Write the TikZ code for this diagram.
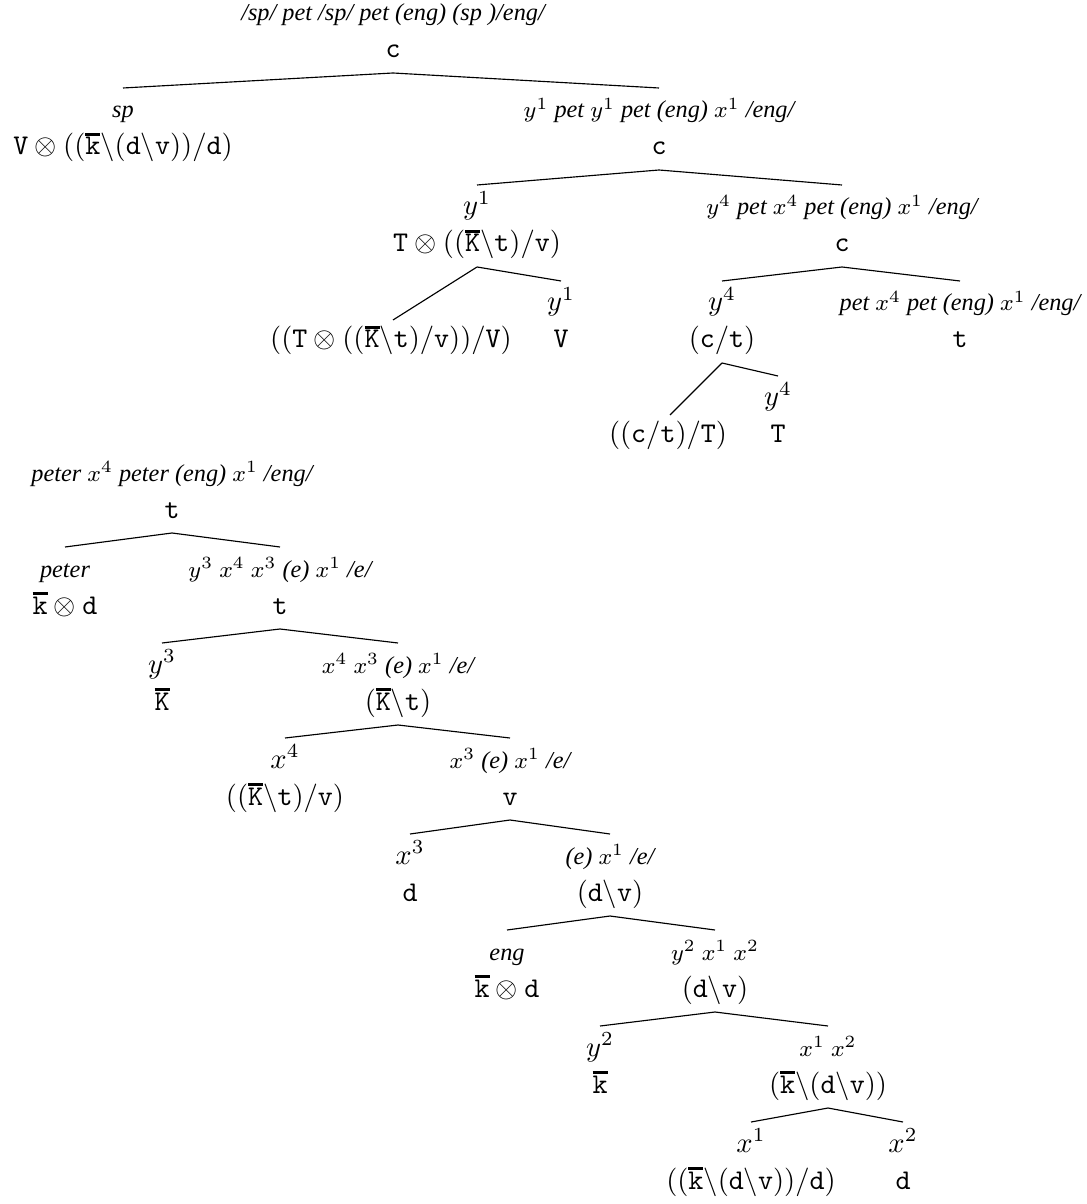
\documentclass[tikz,border=0pt]{standalone}
\usepackage{fontspec}
\usetikzlibrary{calc}
\newfontfamily\lblfont{Liberation Serif}
\newcommand\ovl[1]{\mbox{\setbox0\hbox{$\mathtt{#1}$}\rlap{\raisebox{\dimexpr\ht0+0.6pt\relax}{\rule{\wd0}{0.9pt}}}\box0}}
\newcommand\tp[1]{\mathtt{#1}}
\newcommand\bs{\backslash}
\tikzset{
  typ/.style={anchor=base,inner sep=0pt,font=\fontsize{10}{12}\selectfont},
  lab/.style={anchor=base,inner sep=0pt,font=\lblfont\itshape\fontsize{8.5}{10}\selectfont},
  mlab/.style={anchor=base,inner sep=0pt,font=\fontsize{10}{12}\selectfont},
  br/.style={line width=0.4pt},
}
% name, x, type baseline, label style, label, type
\newcommand\TN[6]{%
  \node[typ] (#1) at (#2,#3) {$#6$};
  \node[#4] (#1l) at (#2,#3-37) {#5};}
\newcommand\BR[2]{\draw[br] ($(#1.base)+(0,15)$) -- ($(#2l.base)+(0,-30)$);}
\begin{document}
\begin{tikzpicture}[x=0.35pt,y=-0.35pt]
\useasboundingbox (0,0) rectangle (1086,1204);
% ---------- tree 1 ----------
\TN{R}{393}{58}{lab}{/sp/ pet /sp/ pet (eng) (sp )/eng/}{\tp{c}}
\TN{A}{123}{155}{lab}{sp}{\tp{V}\otimes((\ovl{k}\bs(\tp{d}\bs\tp{v}))/\tp{d})}
\TN{B}{659}{155}{lab}{$y^1$ pet $y^1$ pet (eng) $x^1$ /eng/}{\tp{c}}
\TN{C}{477}{252}{mlab}{$y^1$}{\tp{T}\otimes((\ovl{K}\bs\tp{t})/\tp{v})}
\TN{D}{842}{252}{lab}{$y^4$ pet $x^4$ pet (eng) $x^1$ /eng/}{\tp{c}}
\node[typ] (E) at (391,348) {$((\tp{T}\otimes((\ovl{K}\bs\tp{t})/\tp{v}))/\tp{V})$};
\TN{F}{561}{348}{mlab}{$y^1$}{\tp{V}}
\TN{G}{722}{348}{mlab}{$y^4$}{(\tp{c}/\tp{t})}
\TN{H}{960}{348}{lab}{pet $x^4$ pet (eng) $x^1$ /eng/}{\tp{t}}
\node[typ] (I) at (668,443) {$((\tp{c}/\tp{t})/\tp{T})$};
\TN{J}{778}{443}{mlab}{$y^4$}{\tp{T}}
\BR{R}{A}\BR{R}{B}
\BR{B}{C}\BR{B}{D}
\draw[br] ($(C.base)+(0,15)$) -- ($(E.base)+(2,-28)$);
\BR{C}{F}
\BR{D}{G}\BR{D}{H}
\draw[br] ($(G.base)+(0,15)$) -- ($(I.base)+(2,-28)$);
\BR{G}{J}
% ---------- tree 2 ----------
\TN{P}{172}{518}{lab}{peter $x^4$ peter (eng) $x^1$ /eng/}{\tp{t}}
\TN{Q}{65}{614}{lab}{peter}{\ovl{k}\otimes\tp{d}}
\TN{S}{280}{614}{lab}{$y^3$ $x^4$ $x^3$ (e) $x^1$ /e/}{\tp{t}}
\TN{U}{162}{710}{mlab}{$y^3$}{\ovl{K}}
\TN{W}{398}{710}{lab}{$x^4$ $x^3$ (e) $x^1$ /e/}{(\ovl{K}\bs\tp{t})}
\TN{X}{285}{805}{mlab}{$x^4$}{((\ovl{K}\bs\tp{t})/\tp{v})}
\TN{Y}{510}{805}{lab}{$x^3$ (e) $x^1$ /e/}{\tp{v}}
\TN{Z}{410}{901}{mlab}{$x^3$}{\tp{d}}
\TN{AA}{610}{901}{lab}{(e) $x^1$ /e/}{(\tp{d}\bs\tp{v})}
\TN{AB}{507}{997}{lab}{eng}{\ovl{k}\otimes\tp{d}}
\TN{AC}{715}{997}{lab}{$y^2$ $x^1$ $x^2$}{(\tp{d}\bs\tp{v})}
\TN{AD}{600}{1093}{mlab}{$y^2$}{\ovl{k}}
\TN{AE}{828}{1093}{lab}{$x^1$ $x^2$}{(\ovl{k}\bs(\tp{d}\bs\tp{v}))}
\TN{AF}{751}{1189}{mlab}{$x^1$}{((\ovl{k}\bs(\tp{d}\bs\tp{v}))/\tp{d})}
\TN{AG}{903}{1189}{mlab}{$x^2$}{\tp{d}}
\BR{P}{Q}\BR{P}{S}
\BR{S}{U}\BR{S}{W}
\BR{W}{X}\BR{W}{Y}
\BR{Y}{Z}\BR{Y}{AA}
\BR{AA}{AB}\BR{AA}{AC}
\BR{AC}{AD}\BR{AC}{AE}
\BR{AE}{AF}\BR{AE}{AG}
\end{tikzpicture}
\end{document}
